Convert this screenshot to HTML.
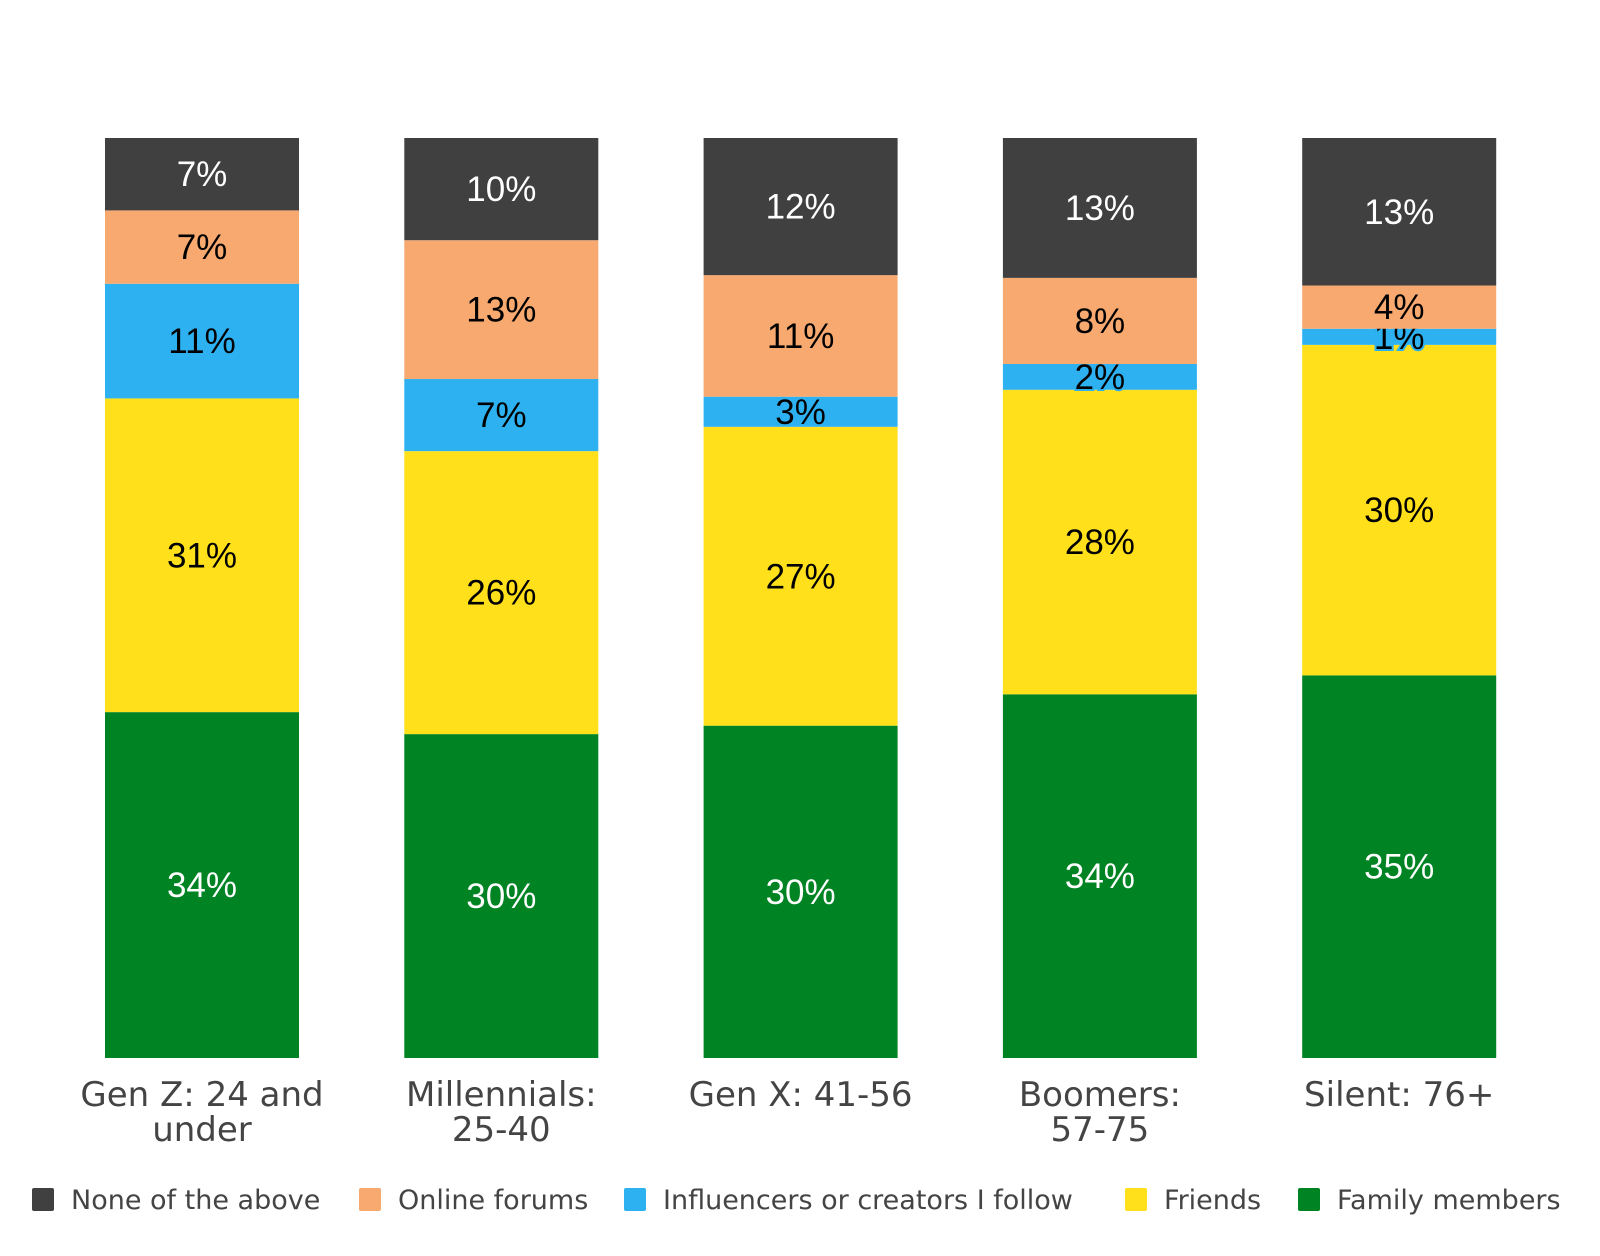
<!DOCTYPE html>
<html><head><meta charset="utf-8"><style>
html,body{margin:0;padding:0;background:#fff;}
svg{display:block;font-family:"Liberation Sans",sans-serif;}
</style></head><body>
<svg id="chart" width="1600" height="1256" viewBox="0 0 1600 1256"></svg>
<script>
const categories = [["Gen Z: 24 and","under"],["Millennials:","25-40"],["Gen X: 41-56"],["Boomers:","57-75"],["Silent: 76+"]];
const seriesNames = ["Family members","Friends","Influencers or creators I follow","Online forums","None of the above"];
const family = [34.4,30.1,29.8,33.8,34.5];
const friends = [31.2,26.3,26.8,28.3,29.8];
const influencers = [11.4,6.7,2.7,2.4,1.45];
const forums = [7.3,12.9,10.9,8.0,3.9];
const none = [7.2,9.5,12.3,13.0,13.3];
const seriesValues = [family,friends,influencers,forums,none];
const colors = ["#008323","#ffe01b","#2db1f0","#f7a96f","#404040"];
const textColors = ["#fff","#000","#000","#000","#fff"];

const svg = document.getElementById('chart');
const NS = 'http://www.w3.org/2000/svg';
const plotTop = 138, plotBottom = 1058, barW = 194;
const xCenter = i => 202 + i * 299.3;
const yScale = f => plotBottom - f * (plotBottom - plotTop);

function mk(tag, attrs){const e=document.createElementNS(NS,tag);for(const k in attrs)e.setAttribute(k,attrs[k]);svg.appendChild(e);return e;}

categories.forEach((cat, i) => {
  const total = seriesValues.reduce((s, arr) => s + arr[i], 0);
  let cum = 0;
  seriesValues.forEach((arr, s) => {
    const v = arr[i];
    const y0 = yScale(cum / total), y1 = yScale((cum + v) / total);
    cum += v;
    const r = mk('rect', {x: xCenter(i) - barW/2, y: y1, width: barW, height: y0 - y1, fill: colors[s]});
    
    
    const small = (y0 - y1) < 40;
    const t = mk('text', {x: xCenter(i), y: (y0 + y1)/2 + 12, 'text-anchor': 'middle', 'font-size': 35, fill: textColors[s]});
    if (small) { t.setAttribute('stroke', colors[s]); t.setAttribute('stroke-width', 4); t.setAttribute('paint-order', 'stroke'); }
    t.textContent = Math.round(v) + '%';
    
    
  });
  cat.forEach((line, li) => {
    const t = mk('text', {x: xCenter(i), y: 1106 + li * 35, 'text-anchor': 'middle', 'font-size': 34, fill: '#444', 'font-family': 'DejaVu Sans, sans-serif'});
    t.textContent = line;
    
    
  });
});

const legendOrder = [4,3,2,1,0];
const legendX = [32,359,624,1125,1298];
legendOrder.forEach((s, k) => {
  const r = mk('rect', {x: legendX[k], y: 1188, width: 22, height: 23, rx: 2, fill: colors[s]});
  
  
  const t = mk('text', {x: legendX[k] + 39, y: 1209, 'font-size': 27, fill: '#444', 'font-family': 'DejaVu Sans, sans-serif'});
  t.textContent = seriesNames[s];
  
  
});
</script>
</body></html>
